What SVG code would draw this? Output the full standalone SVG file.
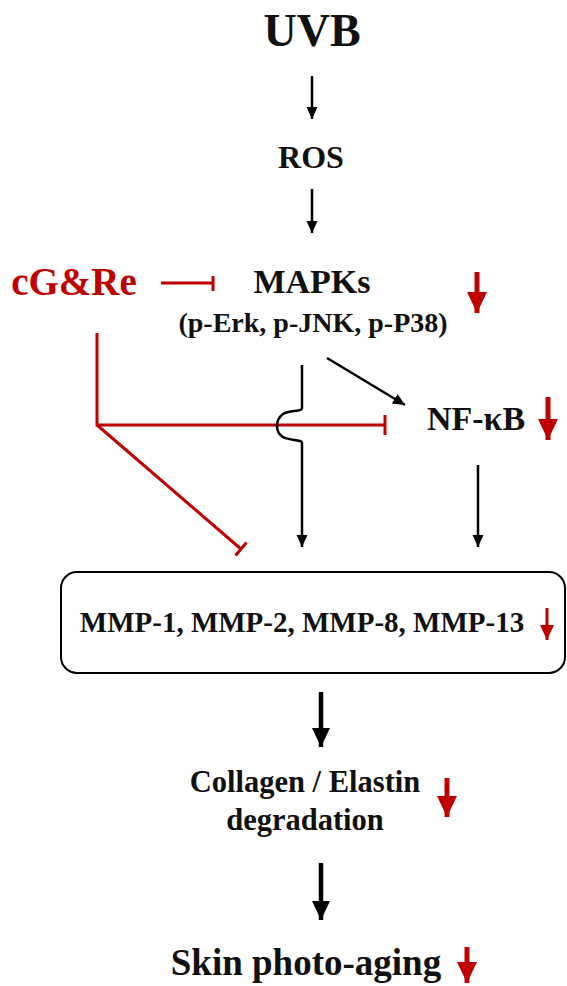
<svg xmlns="http://www.w3.org/2000/svg" width="567" height="986" viewBox="0 0 567 986">
<defs>
<style>
text{font-family:"Liberation Serif","Times New Roman",serif;font-weight:bold;text-anchor:middle;fill:#111}
.red{fill:#c00000}
.k{stroke:#000;fill:none;stroke-width:2.5}
.kb{stroke:#000;fill:none;stroke-width:4.5}
.r{stroke:#c00000;fill:none;stroke-width:3}
.rb{stroke:#c00000;fill:none;stroke-width:5}
</style>
<marker id="ah" markerUnits="userSpaceOnUse" markerWidth="14" markerHeight="14" viewBox="0 0 14 14" refX="12" refY="7" orient="auto">
<path d="M0,1.5 L12,7 L0,12.5 Z" fill="#000"/>
</marker>
<marker id="ahb" markerUnits="userSpaceOnUse" markerWidth="20" markerHeight="20" viewBox="0 0 20 20" refX="19" refY="10" orient="auto">
<path d="M0,1 L19,10 L0,19 Z" fill="#000"/>
</marker>
<marker id="ahr" markerUnits="userSpaceOnUse" markerWidth="22" markerHeight="22" viewBox="0 0 22 22" refX="21" refY="11" orient="auto">
<path d="M0,1 L21,11 L0,21 Z" fill="#c00000"/>
</marker>
<marker id="ahrs" markerUnits="userSpaceOnUse" markerWidth="16" markerHeight="16" viewBox="0 0 16 16" refX="15" refY="8" orient="auto">
<path d="M0,1 L15,8 L0,15 Z" fill="#c00000"/>
</marker>
</defs>
<rect width="567" height="986" fill="#fff"/>
<g id="uvb"><text x="312" y="46" font-size="46">UVB</text></g>
<g id="ros"><text x="311" y="168" font-size="32">ROS</text></g>
<g id="cgre"><text x="74" y="295" font-size="39" class="red">cG&amp;Re</text></g>
<g id="mapks">
<text x="312" y="293" font-size="34">MAPKs</text>
<text x="313" y="332" font-size="28">(p-Erk, p-JNK, p-P38)</text>
<path class="rb" d="M477,272 V313" marker-end="url(#ahr)"/>
</g>
<g id="nfkb">
<text x="476" y="430" font-size="34">NF-κB</text>
<path class="rb" d="M548,397 V440" marker-end="url(#ahr)"/>
</g>
<g id="mmp">
<rect x="61" y="572" width="504" height="101" rx="16" fill="none" stroke="#000" stroke-width="2"/>
<text x="302" y="632" font-size="29">MMP-1, MMP-2, MMP-8, MMP-13</text>
<path class="r" d="M547,608 V640" marker-end="url(#ahrs)"/>
</g>
<g id="collagen">
<text x="305" y="792" font-size="30.5">Collagen / Elastin</text>
<text x="305" y="830" font-size="30.5">degradation</text>
<path class="rb" d="M447,778 V817" marker-end="url(#ahr)"/>
</g>
<g id="skin">
<text x="306" y="975" font-size="37">Skin photo-aging</text>
<path class="rb" d="M467,947 V983" marker-end="url(#ahr)"/>
</g>
<g id="connectors">
<path class="k" d="M312,76 V119" marker-end="url(#ah)"/>
<path class="k" d="M312,189 V233" marker-end="url(#ah)"/>
<path class="r" d="M161,283 H213 M213,276 V291"/>
<path class="r" d="M97,333 V425 H385 M385,415 V435"/>
<path class="r" d="M97,425 L241,549 M235.5,555.5 L246.5,542.5"/>
<path class="k" d="M302,365 V408 C302,412 290,410 283,414 C275,420 275,432 283,437 C290,441 302,439 302,443 V547" marker-end="url(#ah)"/>
<path class="k" d="M327,358 L405,405" marker-end="url(#ah)"/>
<path class="k" d="M478,465 V547" marker-end="url(#ah)"/>
<path class="kb" d="M321,692 V747" marker-end="url(#ahb)"/>
<path class="kb" d="M321,863 V920" marker-end="url(#ahb)"/>
</g>
</svg>
